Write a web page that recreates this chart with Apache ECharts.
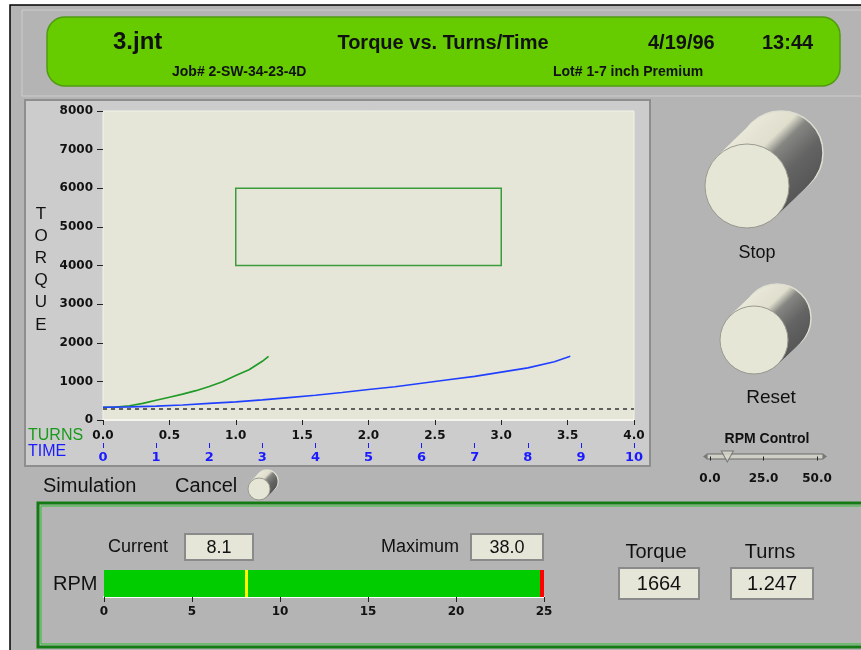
<!DOCTYPE html>
<html>
<head>
<meta charset="utf-8">
<title>Torque vs. Turns/Time</title>
<script src="https://cdn.jsdelivr.net/npm/echarts@6/dist/echarts.min.js"></script>
<style>
  html, body { margin: 0; padding: 0; background: #fff; }
  #main { width: 861px; height: 650px; }
</style>
</head>
<body>
<div id="main"></div>
<script>
// header texts
const fileName = '3.jnt'
const chartTitle = 'Torque vs. Turns/Time'
const runDate = '4/19/96'
const runTime = '13:44'
const jobText = 'Job# 2-SW-34-23-4D'
const lotText = 'Lot# 1-7 inch Premium'

// torque vs turns (green)
const turnsX = [0, 0.1, 0.2, 0.3, 0.4, 0.5, 0.6, 0.7, 0.8, 0.9, 1.0, 1.1, 1.2, 1.247]
const turnsTorque = [330, 335, 370, 430, 510, 590, 670, 760, 870, 990, 1150, 1300, 1520, 1650]

// torque vs time (blue)
const timeX = [0, 0.5, 1, 1.5, 2, 2.5, 3, 3.5, 4, 4.5, 5, 5.5, 6, 6.5, 7, 7.5, 8, 8.5, 8.8]
const timeTorque = [330, 340, 360, 390, 430, 470, 520, 580, 640, 710, 790, 860, 950, 1040, 1130, 1240, 1350, 1510, 1650]

// target window and base line
const boxTurns = [1.0, 3.0]
const boxTorque = [4000, 6000]
const baseTorque = 300

// readouts
const rpmCurrent = 8.1
const rpmMaximum = 38.0
const rpmScaleMax = 25
const torqueNow = '1664'
const turnsNow = '1.247'
const rpmControlRange = [0, 50]

const chart = echarts.init(document.getElementById('main'))

const txt = (x, y, text, size, opts = {}) => ({
  type: 'text', x, y, z: 50,
  style: {
    text, fontSize: size,
    fontFamily: opts.family || 'Liberation Sans',
    fontWeight: opts.weight || 'normal',
    fill: opts.color || '#111',
    textAlign: opts.align || 'left',
    textVerticalAlign: 'middle'
  }
})

// knob = cylinder drawn from back face to front face
const knob = (fx, fy, r, bx, by) => {
  const els = []
  const n = 16
  for (let i = 0; i <= n; i++) {
    const t = i / n
    els.push({
      type: 'circle', z: 20 + i / 100,
      shape: { cx: bx + (fx - bx) * t, cy: by + (fy - by) * t, r },
      style: {
        fill: {
          type: 'linear', x: 0, y: 0, x2: 1, y2: 1,
          colorStops: [
            { offset: 0, color: '#efeee0' },
            { offset: 0.36, color: '#e0dfce' },
            { offset: 0.46, color: '#858582' },
            { offset: 0.65, color: '#646464' },
            { offset: 1, color: '#4e4e4e' }
          ]
        },
        stroke: i === 0 ? '#deded2' : null,
        lineWidth: 1.5
      }
    })
  }
  els.push({
    type: 'circle', z: 21,
    shape: { cx: fx, cy: fy, r },
    style: { fill: '#e6e6d6', stroke: '#9a9a90', lineWidth: 1 }
  })
  return els
}

const valueBox = (x, y, w, h, value, size) => ([
  { type: 'rect', z: 10, shape: { x, y, width: w, height: h },
    style: { fill: '#e6e6d8', stroke: '#8a8a8a', lineWidth: 2 } },
  txt(x + w / 2, y + h / 2 + 1, value, size, { align: 'center' })
])

const torqueLetters = 'TORQUE'.split('').map((ch, i) =>
  txt(41, 214 + i * 22.2, ch, 17, { align: 'center' }))

const graphics = [
  // page
  { type: 'rect', z: -20, shape: { x: 10, y: 5, width: 860, height: 660 },
    style: { fill: '#b4b4b4', stroke: '#000', lineWidth: 1.5 } },
  // header frame
  { type: 'rect', z: -19, shape: { x: 22, y: 10, width: 850, height: 86 },
    style: { fill: '#b4b4b4', stroke: '#cdcdcd', lineWidth: 1 } },
  { type: 'rect', z: -18, shape: { x: 47, y: 17, width: 793, height: 69, r: 18 },
    style: { fill: '#66cc00', stroke: '#4f9a10', lineWidth: 1.5 } },
  // chart panel
  { type: 'rect', z: -17, shape: { x: 25, y: 100, width: 625, height: 366 },
    style: { fill: '#cccccc', stroke: '#8e8e8e', lineWidth: 2 } },
  // bottom group box
  { type: 'rect', z: -16, shape: { x: 38, y: 503, width: 840, height: 144 },
    style: { fill: 'transparent', stroke: '#137a13', lineWidth: 3 } },
  { type: 'rect', z: -15, shape: { x: 41, y: 506, width: 834, height: 138 },
    style: { fill: 'transparent', stroke: '#2fbf2f', lineWidth: 1 } },

  txt(113, 42, fileName, 24, { weight: 'bold' }),
  txt(443, 43, chartTitle, 20, { weight: 'bold', align: 'center' }),
  txt(648, 43, runDate, 20, { weight: 'bold' }),
  txt(762, 43, runTime, 20, { weight: 'bold' }),
  txt(172, 72, jobText, 14, { weight: 'bold' }),
  txt(553, 72, lotText, 14, { weight: 'bold' }),

  ...torqueLetters,
  txt(28, 436, 'TURNS', 16, { color: '#1a9a1a' }),
  txt(28, 452, 'TIME', 16, { color: '#1a1aff' }),

  ...knob(747, 186, 42, 781, 153),
  txt(757, 253, 'Stop', 18, { align: 'center' }),
  ...knob(754, 340, 34, 777, 318),
  txt(771, 398, 'Reset', 19, { align: 'center' }),

  txt(767, 439, 'RPM Control', 14, { weight: 'bold', align: 'center' }),
  { type: 'rect', z: -5, shape: { x: 707, y: 454, width: 116, height: 5 },
    style: { fill: '#cfcfc6', stroke: '#6a6a6a', lineWidth: 1 } },
  { type: 'polygon', z: -5, shape: { points: [[703, 456.5], [707, 453.5], [707, 459.5]] },
    style: { fill: '#777' } },
  { type: 'polygon', z: -5, shape: { points: [[827, 456.5], [823, 453.5], [823, 459.5]] },
    style: { fill: '#777' } },

  txt(43, 486, 'Simulation', 20),
  txt(175, 486, 'Cancel', 20),
  ...knob(259, 489, 11, 267, 481),

  txt(108, 547, 'Current', 18),
  ...valueBox(185, 534, 68, 26, String(rpmCurrent.toFixed(1)), 18),
  txt(381, 547, 'Maximum', 18),
  ...valueBox(471, 534, 72, 26, String(rpmMaximum.toFixed(1)), 18),
  txt(53, 584, 'RPM', 20),

  txt(656, 552, 'Torque', 20, { align: 'center' }),
  ...valueBox(619, 568, 80, 31, torqueNow, 20),
  txt(770, 552, 'Turns', 20, { align: 'center' }),
  ...valueBox(731, 568, 82, 31, turnsNow, 20)
]

const digitLabel = (color) => ({
  color, fontSize: 12, fontWeight: 'bold', fontFamily: 'DejaVu Sans'
})

const option = {
  animation: false,
  backgroundColor: '#ffffff',
  graphic: graphics,
  grid: [
    { left: 103, top: 111, width: 531, height: 309, show: true,
      backgroundColor: '#e6e6d8', borderColor: '#f2f2ea', borderWidth: 1 },
    { left: 104, top: 570, width: 440, height: 27, show: true,
      backgroundColor: '#00cc00', borderColor: '#8a8a8a', borderWidth: 0 },
    { left: 710, top: 446, width: 107, height: 21 }
  ],
  xAxis: [
    { type: 'value', gridIndex: 0, min: 0, max: 4, interval: 0.5,
      axisLine: { show: true, lineStyle: { color: '#f4f4ec', width: 2 } },
      axisTick: { show: true, length: 5, lineStyle: { color: '#222' } },
      axisLabel: { ...digitLabel('#111'), margin: 10, formatter: v => v.toFixed(1) },
      splitLine: { show: false } },
    { type: 'value', gridIndex: 0, position: 'bottom', offset: 23,
      min: 0, max: 10, interval: 1,
      axisLine: { show: false },
      axisTick: { show: true, length: 5, lineStyle: { color: '#1a1aff' } },
      axisLabel: { ...digitLabel('#1a1aff'), fontSize: 13, margin: 8 },
      splitLine: { show: false } },
    { type: 'value', gridIndex: 1, min: 0, max: rpmScaleMax, interval: 5,
      axisLine: { show: true, lineStyle: { color: '#ffffff', width: 2 } },
      axisTick: { show: true, length: 5, lineStyle: { color: '#222' } },
      axisLabel: { ...digitLabel('#111'), margin: 9 },
      splitLine: { show: false } },
    { type: 'value', gridIndex: 2, min: rpmControlRange[0], max: rpmControlRange[1], interval: 25,
      axisLine: { show: false },
      axisTick: { show: true, length: 4, lineStyle: { color: '#222' } },
      axisLabel: { ...digitLabel('#111'), margin: 6, formatter: v => v.toFixed(1) },
      splitLine: { show: false } }
  ],
  yAxis: [
    { type: 'value', gridIndex: 0, min: 0, max: 8000, interval: 1000,
      axisLine: { show: false },
      axisTick: { show: true, length: 6, lineStyle: { color: '#222' } },
      axisLabel: { ...digitLabel('#111'), margin: 10, formatter: v => String(v) },
      splitLine: { show: false } },
    { type: 'category', gridIndex: 1, data: ['RPM'], show: false },
    { type: 'value', gridIndex: 2, min: -1, max: 1, show: false }
  ],
  series: [
    {
      name: 'Turns', type: 'line', xAxisIndex: 0, yAxisIndex: 0,
      data: turnsX.map((t, i) => [t, turnsTorque[i]]),
      showSymbol: false, smooth: false,
      lineStyle: { color: '#1f9a26', width: 1.6 },
      markLine: {
        silent: true, symbol: 'none', label: { show: false },
        lineStyle: { color: '#333', type: [4, 4], width: 1.5 },
        data: [{ yAxis: baseTorque }]
      },
      markArea: {
        silent: true,
        itemStyle: { color: 'rgba(0,0,0,0)', borderColor: '#3c9c3c', borderWidth: 1.5 },
        data: [[{ xAxis: boxTurns[0], yAxis: boxTorque[0] }, { xAxis: boxTurns[1], yAxis: boxTorque[1] }]]
      }
    },
    {
      name: 'Time', type: 'line', xAxisIndex: 1, yAxisIndex: 0,
      data: timeX.map((t, i) => [t, timeTorque[i]]),
      showSymbol: false,
      lineStyle: { color: '#2040ff', width: 1.6 }
    },
    {
      name: 'RPM', type: 'bar', xAxisIndex: 2, yAxisIndex: 1,
      data: [Math.min(rpmMaximum, rpmScaleMax)],
      barWidth: '100%', silent: true,
      itemStyle: { color: '#00cc00' },
      markLine: {
        silent: true, symbol: 'none', label: { show: false },
        data: [
          { xAxis: rpmCurrent, lineStyle: { color: '#ffff00', width: 3, type: 'solid' } },
          { xAxis: rpmScaleMax - 0.1, lineStyle: { color: '#ff0000', width: 4, type: 'solid' } }
        ]
      }
    },
    {
      name: 'RPM Control', type: 'scatter', xAxisIndex: 3, yAxisIndex: 2,
      data: [[rpmCurrent, 0]],
      symbol: 'triangle', symbolRotate: 180, symbolSize: [12, 11],
      itemStyle: { color: '#d8d8cc', borderColor: '#666', borderWidth: 1 },
      silent: true, z: 10
    }
  ]
}

chart.setOption(option)
</script>
</body>
</html>
